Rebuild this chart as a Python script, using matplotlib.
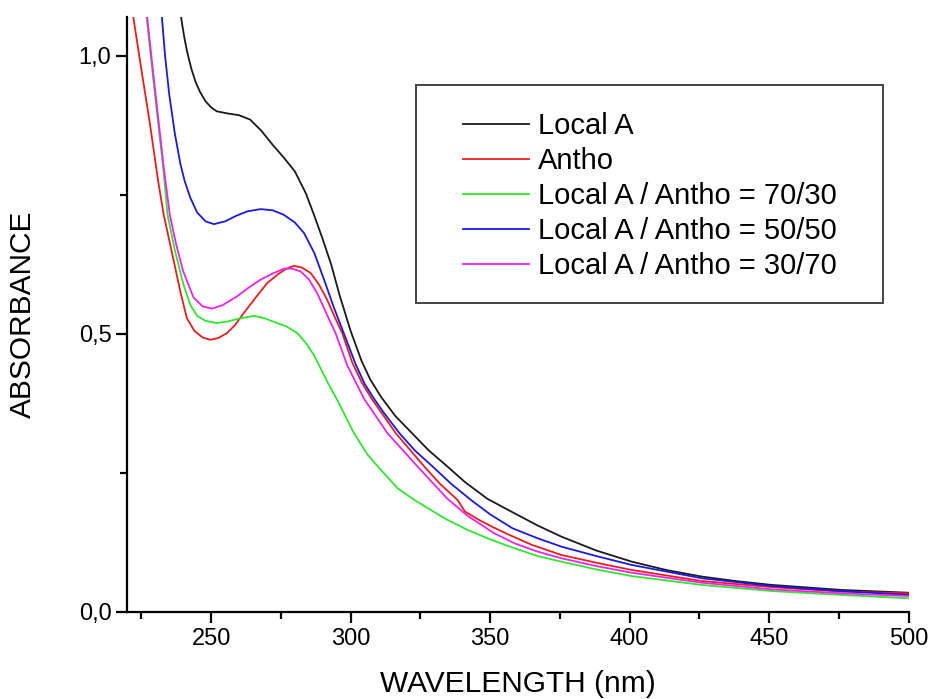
import matplotlib
matplotlib.use("Agg")
import matplotlib.pyplot as plt
from matplotlib.patches import Rectangle
from matplotlib.ticker import MultipleLocator, FuncFormatter

plt.rcParams['font.family'] = ['Liberation Sans', 'DejaVu Sans']

# Local A
wl_local = [238.5, 239.5, 240.5, 241.5, 243, 244.5, 246, 248, 250, 252, 256, 260, 264, 268, 272,
            276, 280, 284, 287, 290, 293, 296, 300, 304, 307, 310.8, 316, 322, 328, 334.7, 341,
            349, 358.7, 367, 375.5, 388, 400.7, 413, 425.9, 438, 451, 476, 500]
ab_local = [1.10, 1.06, 1.03, 1.005, 0.975, 0.952, 0.935, 0.918, 0.907, 0.90, 0.896, 0.893, 0.885,
            0.865, 0.84, 0.817, 0.792, 0.752, 0.712, 0.67, 0.625, 0.57, 0.505, 0.45, 0.418,
            0.387, 0.352, 0.321, 0.29, 0.261, 0.233, 0.203, 0.177, 0.155, 0.135, 0.11, 0.090,
            0.075, 0.063, 0.055, 0.048, 0.039, 0.034]

# Antho
wl_antho = [221.3, 222, 225, 228, 231, 233, 236, 239, 241.3, 244, 247, 249.7, 252.5, 255.7, 258.5,
            261.7, 266, 270.1, 274, 277, 279.7, 282.5, 285.7, 288.7, 291.6, 294.5, 297, 300.6,
            304, 307.8, 316.2, 326.4, 332, 338.3, 341, 346, 351, 356, 365, 375.5, 388, 400.7,
            425.9, 451, 476, 500]
ab_antho = [1.10, 1.073, 0.975, 0.88, 0.775, 0.714, 0.645, 0.575, 0.528, 0.505, 0.493, 0.489,
            0.492, 0.501, 0.515, 0.537, 0.565, 0.591, 0.607, 0.617, 0.622, 0.619, 0.609, 0.588,
            0.561, 0.528, 0.501, 0.448, 0.412, 0.381, 0.321, 0.261, 0.23, 0.201, 0.18, 0.165,
            0.152, 0.14, 0.12, 0.102, 0.088, 0.075, 0.055, 0.044, 0.036, 0.033]

# Local A / Antho = 70/30
wl_7030 = [226, 226.8, 229, 231, 232.8, 234.4, 237, 240, 242.5, 245, 248, 252.1, 256, 260, 265.3,
           269, 273.7, 277, 280.9, 284, 286.9, 289.5, 292, 294, 295.8, 298.8, 301.2, 306, 309.6,
           316.8, 322.8, 328.7, 334, 341.9, 350, 358.7, 367, 375.5, 388, 400.7, 425.9, 451, 476,
           500]
ab_7030 = [1.10, 1.073, 0.97, 0.88, 0.80, 0.714, 0.65, 0.59, 0.552, 0.532, 0.523, 0.519, 0.522,
           0.527, 0.532, 0.528, 0.519, 0.513, 0.501, 0.483, 0.461, 0.435, 0.41, 0.392, 0.375,
           0.345, 0.321, 0.283, 0.262, 0.222, 0.201, 0.183, 0.167, 0.147, 0.13, 0.114, 0.10,
           0.090, 0.076, 0.064, 0.048, 0.037, 0.030, 0.024]

# Local A / Antho = 50/50
wl_5050 = [231.5, 232.3, 233.5, 235, 237, 239, 240.5, 242.5, 245, 248, 251, 255, 259, 263, 267.7,
           272, 276, 280, 283.3, 287, 290.5, 294, 298, 301.8, 305, 308.4, 312, 317.5, 323, 329.4,
           336, 343.1, 350, 358, 367, 375.5, 388, 400.7, 425.9, 451, 476, 500]
ab_5050 = [1.10, 1.073, 1.0, 0.93, 0.86, 0.805, 0.775, 0.745, 0.718, 0.702, 0.697, 0.702, 0.712,
           0.72, 0.724, 0.722, 0.714, 0.70, 0.681, 0.645, 0.597, 0.547, 0.495, 0.445, 0.41, 0.383,
           0.357, 0.321, 0.29, 0.261, 0.23, 0.201, 0.175, 0.15, 0.132, 0.117, 0.10, 0.084, 0.060,
           0.046, 0.037, 0.030]

# Local A / Antho = 30/70
wl_3070 = [226.5, 227, 229, 231, 233, 235.2, 237.5, 240, 243.7, 247, 250.3, 254, 259.3, 263.5,
           267.7, 272, 276.1, 279, 282.1, 285, 288.1, 291, 294.6, 298.8, 304.8, 313.2, 324,
           334.7, 342, 351.5, 358.7, 367, 375.5, 388, 400.7, 425.9, 451, 476, 500]
ab_3070 = [1.10, 1.073, 0.98, 0.89, 0.80, 0.714, 0.66, 0.612, 0.565, 0.549, 0.545, 0.551, 0.567,
           0.583, 0.597, 0.608, 0.617, 0.617, 0.612, 0.598, 0.572, 0.54, 0.501, 0.443, 0.383,
           0.321, 0.261, 0.203, 0.172, 0.141, 0.123, 0.108, 0.096, 0.082, 0.070, 0.052, 0.040,
           0.033, 0.028]

labels = ['Local A', 'Antho', 'Local A / Antho = 70/30', 'Local A / Antho = 50/50',
          'Local A / Antho = 30/70']
colors = ['#1a1a1a', '#ee1c1c', '#2ee82e', '#1a1ae0', '#ee22ee']

fig = plt.figure(figsize=(9.3, 6.99), dpi=100)
ax = fig.add_axes([0.137, 0.125, 0.840, 0.851])

series = [(wl_local, ab_local), (wl_antho, ab_antho), (wl_7030, ab_7030),
          (wl_5050, ab_5050), (wl_3070, ab_3070)]
for (wl, ab), lab, c in zip(series, labels, colors):
    ax.plot(wl, ab, color=c, lw=1.3, label=lab)

ax.set_xlim(220, 500)
ax.set_ylim(0, 1.07)
ax.xaxis.set_major_locator(MultipleLocator(50))
ax.xaxis.set_minor_locator(MultipleLocator(25))
ax.yaxis.set_major_locator(MultipleLocator(0.5))
ax.yaxis.set_minor_locator(MultipleLocator(0.25))
ax.yaxis.set_major_formatter(FuncFormatter(lambda v, p: ('%.1f' % v).replace('.', ',')))

for s in ['top', 'right']:
    ax.spines[s].set_visible(False)
for s in ['left', 'bottom']:
    ax.spines[s].set_linewidth(1.6)
ax.tick_params(which='major', direction='out', length=8, width=1.6, labelsize=17)
ax.tick_params(which='minor', direction='out', length=5, width=1.6)

ax.set_xlabel('WAVELENGTH (nm)', fontsize=21.5, labelpad=15)
ax.set_ylabel('ABSORBANCE', fontsize=21.5, labelpad=30)

# legend box
ax.add_patch(Rectangle((0.369, 0.519), 0.598, 0.367, transform=ax.transAxes,
                       fill=False, edgecolor='#444444', lw=1.4, zorder=5))
ax.legend(loc='upper left', bbox_to_anchor=(0.429, 0.84), frameon=False, fontsize=21,
          handlelength=2.28, handletextpad=0.32, labelspacing=0.24, borderpad=0,
          borderaxespad=0)

fig.savefig('out.png', dpi=100)
